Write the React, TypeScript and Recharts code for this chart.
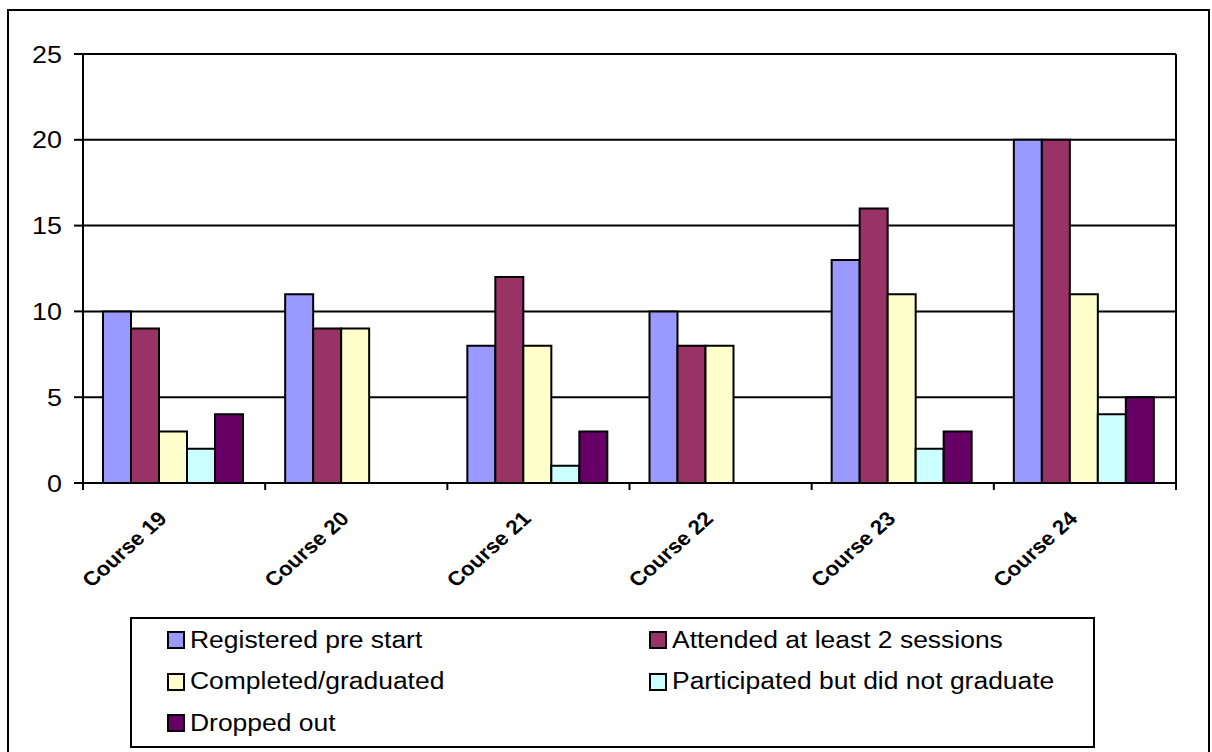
import { BarChart, Bar, XAxis, YAxis, CartesianGrid, Legend } from 'recharts';

// course categories along the x axis
const courses = ['Course 19', 'Course 20', 'Course 21', 'Course 22', 'Course 23', 'Course 24'];

// series values, one per course
const registered = [10, 11, 8, 10, 13, 20];
const attended = [9, 9, 12, 8, 16, 20];
const completed = [3, 9, 8, 8, 11, 11];
const participated = [2, 0, 1, 0, 2, 4];
const dropped = [4, 0, 3, 0, 3, 5];

const yTicks = [0, 5, 10, 15, 20, 25];

const series = [
  { key: 'registered', name: 'Registered pre start', color: '#9999FF' },
  { key: 'attended', name: 'Attended at least 2 sessions', color: '#993366' },
  { key: 'completed', name: 'Completed/graduated', color: '#FFFFCC' },
  { key: 'participated', name: 'Participated but did not graduate', color: '#CCFFFF' },
  { key: 'dropped', name: 'Dropped out', color: '#660066' },
];

const data = courses.map((course, i) => ({
  course,
  registered: registered[i],
  attended: attended[i],
  completed: completed[i],
  participated: participated[i],
  dropped: dropped[i],
}));

const FONT = '"Liberation Sans", Arial, sans-serif';
// the original picture is a bit wider than tall, so text is stretched sideways
const STRETCH = 1.12;

function CountTick(props: any) {
  const { x, y, payload } = props;
  return (
    <text
      transform={`translate(${x},${y}) scale(${STRETCH},1)`}
      textAnchor="end"
      dy="0.36em"
      fontSize={24}
      fontFamily={FONT}
      fill="#000"
    >
      {payload.value}
    </text>
  );
}

function CourseTick(props: any) {
  const { x, y, payload, index } = props;
  const half = payload.offset || 0;
  const last = index === courses.length - 1;
  return (
    <g>
      {/* tick marks sit between the categories, like Excel */}
      <line x1={x - half} x2={x - half} y1={y} y2={y + 7} stroke="#000" strokeWidth={2} />
      {last && <line x1={x + half} x2={x + half} y1={y} y2={y + 7} stroke="#000" strokeWidth={2} />}
      <g transform={`translate(${x - 6},${y + 37}) scale(${STRETCH},1)`}>
        <text
          transform="rotate(-45)"
          textAnchor="end"
          fontSize={20}
          fontWeight="bold"
          fontFamily={FONT}
          fill="#000"
        >
          {payload.value}
        </text>
      </g>
    </g>
  );
}

function LegendBox() {
  return (
    <div
      style={{
        boxSizing: 'border-box',
        width: 965,
        height: 131,
        border: '2px solid #000',
        background: '#fff',
        position: 'relative',
        fontFamily: FONT,
        fontSize: 23,
        color: '#000',
      }}
    >
      {series.map((s, i) => {
        const col = i % 2;
        const row = Math.floor(i / 2);
        return (
          <div
            key={s.key}
            style={{
              position: 'absolute',
              left: col ? 517 : 35,
              top: 9 + row * 41.5,
              height: 24,
              display: 'flex',
              alignItems: 'center',
              whiteSpace: 'nowrap',
            }}
          >
            <span
              style={{
                boxSizing: 'border-box',
                width: 18,
                height: 18,
                border: '2px solid #000',
                background: s.color,
                display: 'inline-block',
              }}
            />
            <span
              style={{
                marginLeft: 5,
                display: 'inline-block',
                transform: `scaleX(1.15)`,
                transformOrigin: 'left center',
              }}
            >
              {s.name}
            </span>
          </div>
        );
      })}
    </div>
  );
}

export default function App() {
  return (
    <div
      style={{
        position: 'absolute',
        left: 0,
        top: 0,
        width: 1212,
        height: 752,
        overflow: 'hidden',
        background: '#fff',
      }}
    >
      <div
        style={{
          position: 'absolute',
          left: 7,
          top: 9,
          width: 1203,
          height: 800,
          boxSizing: 'border-box',
          border: '2px solid #000',
        }}
      />
      <div style={{ position: 'absolute', left: 0, top: 0 }}>
        <BarChart
          width={1212}
          height={752}
          data={data}
          margin={{ top: 54, right: 36, left: 0, bottom: 4 }}
          barCategoryGap={20}
          barGap={0}
        >
          <CartesianGrid
            stroke="#000"
            strokeWidth={2}
            horizontal={true}
            vertical={true}
            verticalCoordinatesGenerator={({ offset }: any) => [offset.left + offset.width]}
          />
          <XAxis
            dataKey="course"
            height={134}
            tickLine={false}
            tickSize={0}
            tickMargin={0}
            axisLine={{ stroke: '#000', strokeWidth: 2 }}
            interval={0}
            tick={<CourseTick />}
          />
          <YAxis
            width={83}
            domain={[0, 25]}
            ticks={yTicks}
            tickSize={9}
            tickMargin={12}
            tickLine={{ stroke: '#000', strokeWidth: 2 }}
            axisLine={{ stroke: '#000', strokeWidth: 2 }}
            tick={<CountTick />}
            allowDataOverflow
          />
          <Legend
            verticalAlign="bottom"
            align="left"
            layout="horizontal"
            wrapperStyle={{ left: 130, width: 965 }}
            content={() => <LegendBox />}
          />
          {series.map((s) => (
            <Bar
              key={s.key}
              dataKey={s.key}
              name={s.name}
              fill={s.color}
              stroke="#000"
              strokeWidth={2}
              isAnimationActive={false}
            />
          ))}
        </BarChart>
      </div>
    </div>
  );
}
